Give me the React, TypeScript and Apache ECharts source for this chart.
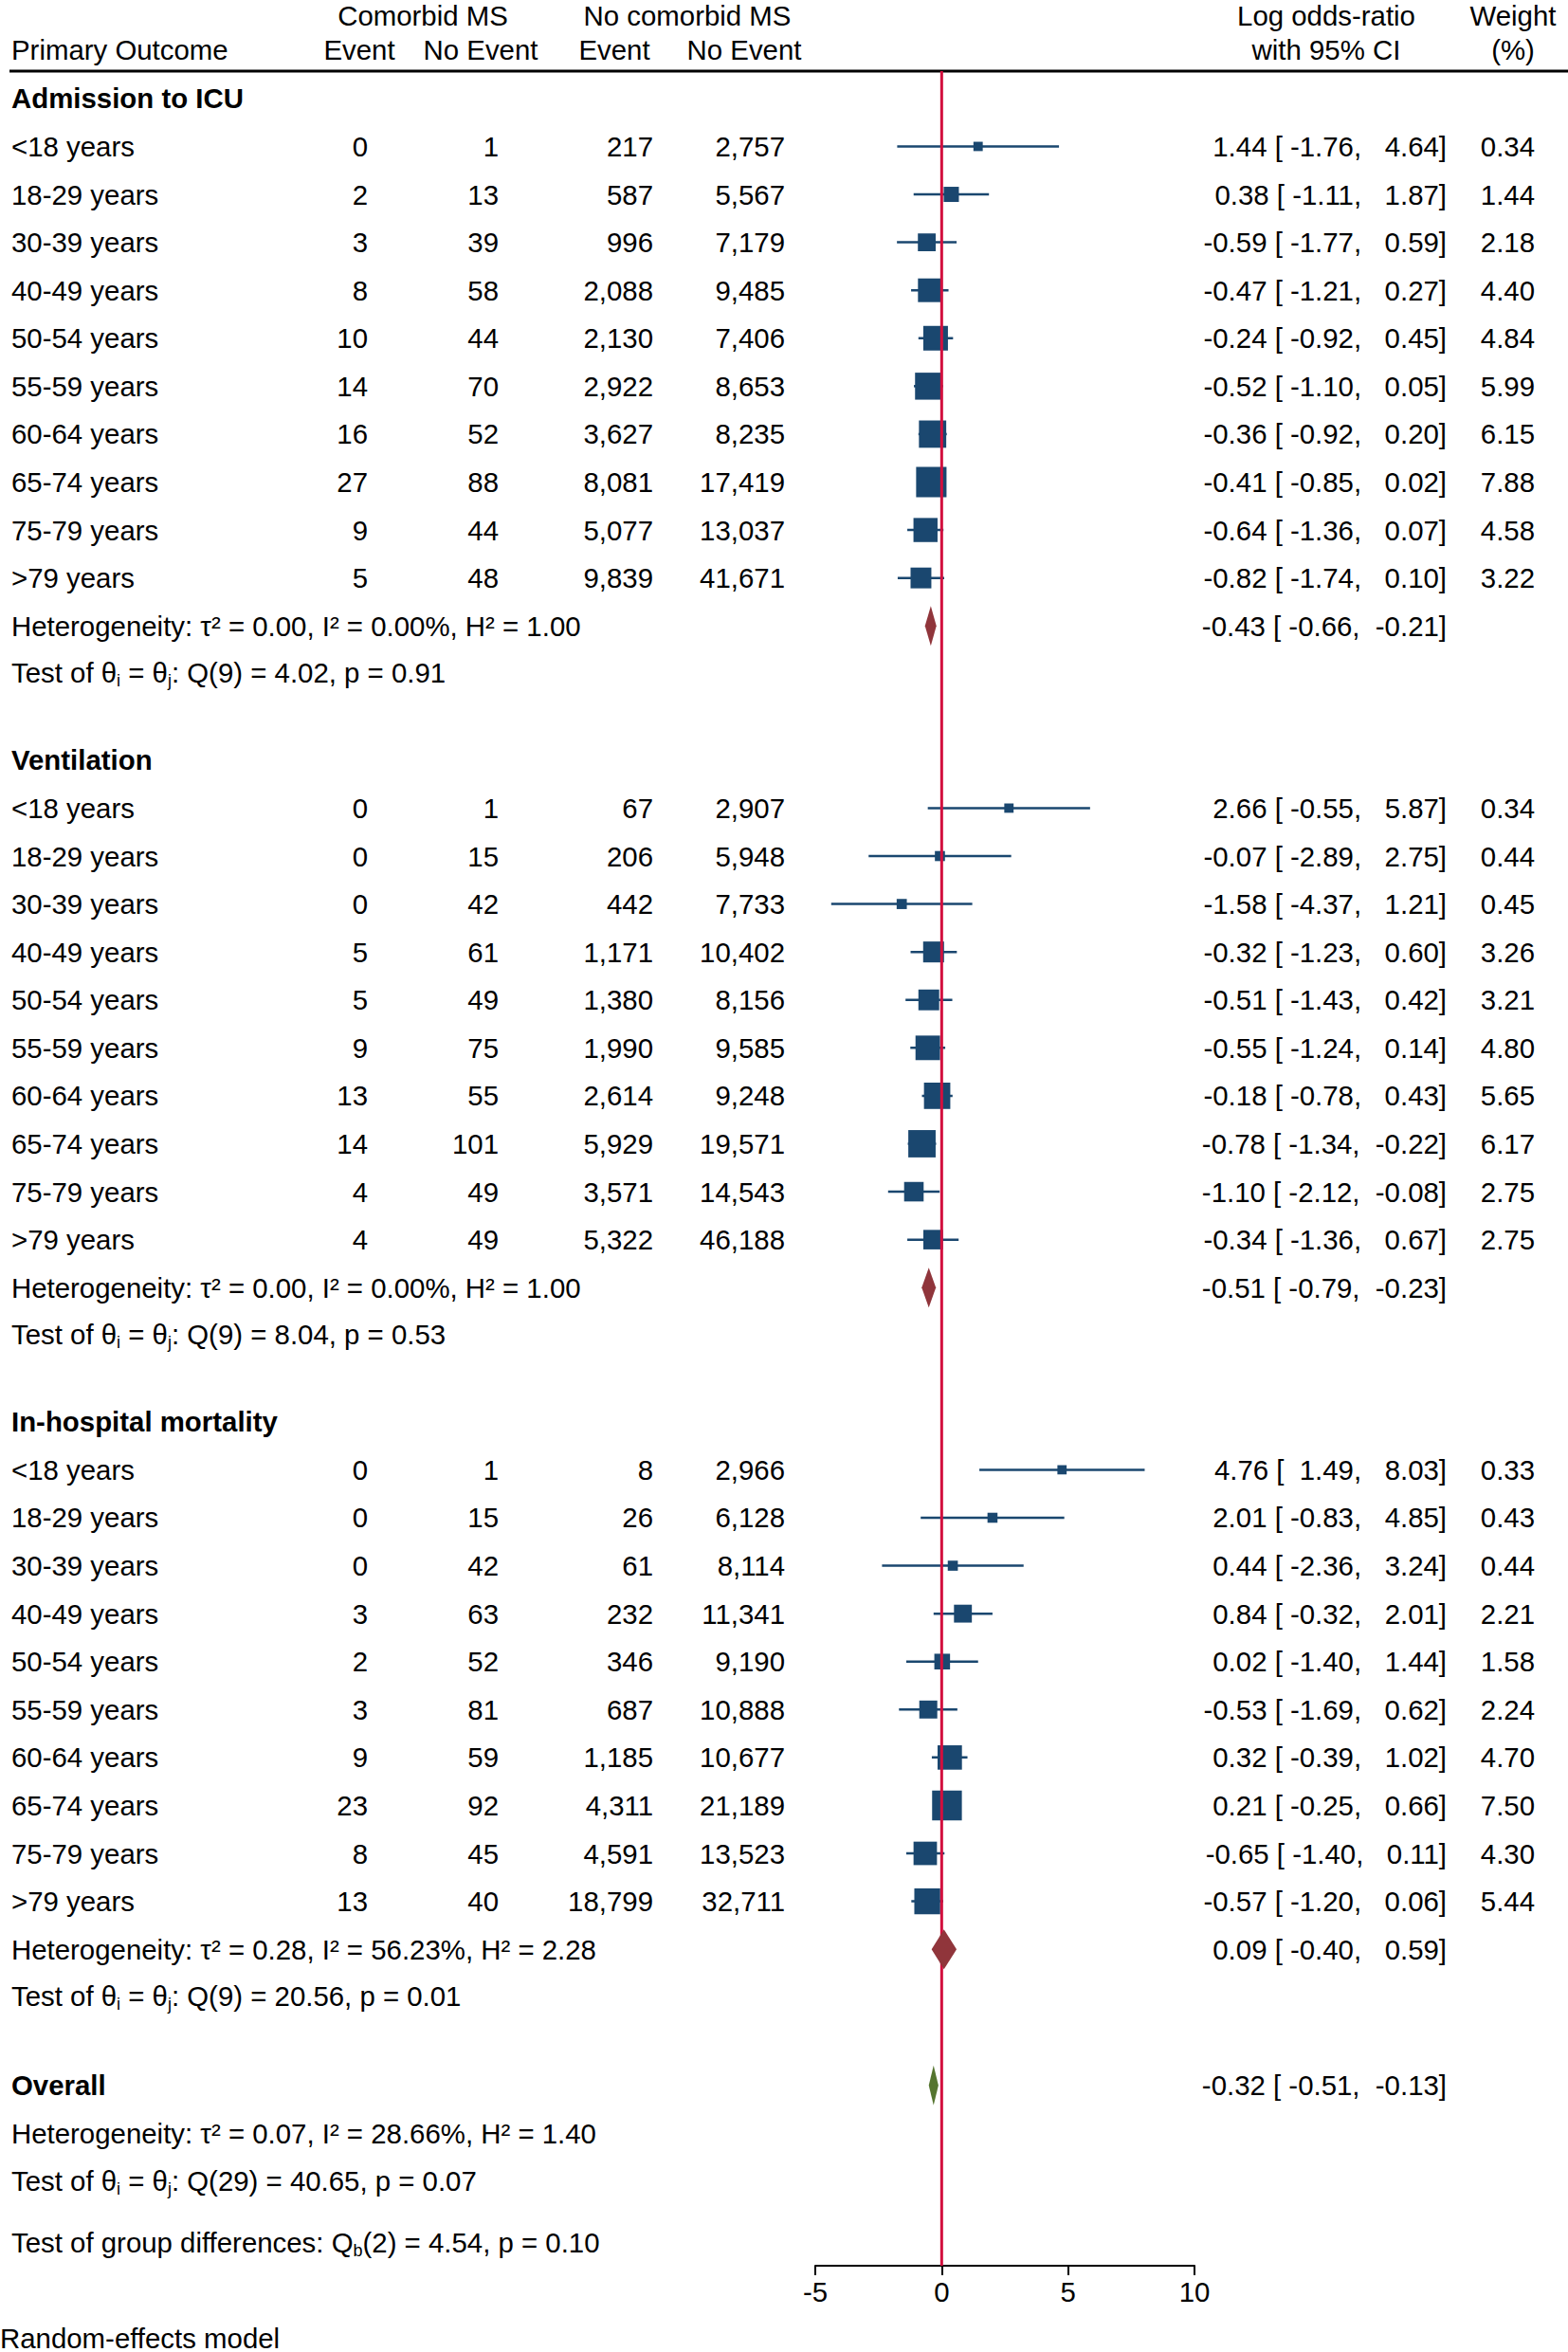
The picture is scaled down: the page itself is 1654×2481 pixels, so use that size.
import React, { useEffect, useRef } from "react";
import * as echarts from "echarts";

// ---------------- DATA ----------------
const ageGroups = ["<18 years", "18-29 years", "30-39 years", "40-49 years", "50-54 years", "55-59 years", "60-64 years", "65-74 years", "75-79 years", ">79 years"];
const outcomes = ["Admission to ICU", "Ventilation", "In-hospital mortality"];

// Admission to ICU
const icuEventMS = [0, 2, 3, 8, 10, 14, 16, 27, 9, 5];
const icuNoEventMS = [1, 13, 39, 58, 44, 70, 52, 88, 44, 48];
const icuEventNoMS = [217, 587, 996, 2088, 2130, 2922, 3627, 8081, 5077, 9839];
const icuNoEventNoMS = [2757, 5567, 7179, 9485, 7406, 8653, 8235, 17419, 13037, 41671];
const icuLogOR = [1.44, 0.38, -0.59, -0.47, -0.24, -0.52, -0.36, -0.41, -0.64, -0.82];
const icuLower = [-1.76, -1.11, -1.77, -1.21, -0.92, -1.10, -0.92, -0.85, -1.36, -1.74];
const icuUpper = [4.64, 1.87, 0.59, 0.27, 0.45, 0.05, 0.20, 0.02, 0.07, 0.10];
const icuWeight = [0.34, 1.44, 2.18, 4.40, 4.84, 5.99, 6.15, 7.88, 4.58, 3.22];

// Ventilation
const ventEventMS = [0, 0, 0, 5, 5, 9, 13, 14, 4, 4];
const ventNoEventMS = [1, 15, 42, 61, 49, 75, 55, 101, 49, 49];
const ventEventNoMS = [67, 206, 442, 1171, 1380, 1990, 2614, 5929, 3571, 5322];
const ventNoEventNoMS = [2907, 5948, 7733, 10402, 8156, 9585, 9248, 19571, 14543, 46188];
const ventLogOR = [2.66, -0.07, -1.58, -0.32, -0.51, -0.55, -0.18, -0.78, -1.10, -0.34];
const ventLower = [-0.55, -2.89, -4.37, -1.23, -1.43, -1.24, -0.78, -1.34, -2.12, -1.36];
const ventUpper = [5.87, 2.75, 1.21, 0.60, 0.42, 0.14, 0.43, -0.22, -0.08, 0.67];
const ventWeight = [0.34, 0.44, 0.45, 3.26, 3.21, 4.80, 5.65, 6.17, 2.75, 2.75];

// In-hospital mortality
const mortEventMS = [0, 0, 0, 3, 2, 3, 9, 23, 8, 13];
const mortNoEventMS = [1, 15, 42, 63, 52, 81, 59, 92, 45, 40];
const mortEventNoMS = [8, 26, 61, 232, 346, 687, 1185, 4311, 4591, 18799];
const mortNoEventNoMS = [2966, 6128, 8114, 11341, 9190, 10888, 10677, 21189, 13523, 32711];
const mortLogOR = [4.76, 2.01, 0.44, 0.84, 0.02, -0.53, 0.32, 0.21, -0.65, -0.57];
const mortLower = [1.49, -0.83, -2.36, -0.32, -1.40, -1.69, -0.39, -0.25, -1.40, -1.20];
const mortUpper = [8.03, 4.85, 3.24, 2.01, 1.44, 0.62, 1.02, 0.66, 0.11, 0.06];
const mortWeight = [0.33, 0.43, 0.44, 2.21, 1.58, 2.24, 4.70, 7.50, 4.30, 5.44];

// Subgroup pooled results
const pooledLogOR = [-0.43, -0.51, 0.09];
const pooledLower = [-0.66, -0.79, -0.40];
const pooledUpper = [-0.21, -0.23, 0.59];
const hetTau2 = [0.00, 0.00, 0.28];
const hetI2 = [0.00, 0.00, 56.23];
const hetH2 = [1.00, 1.00, 2.28];
const testDf = [9, 9, 9];
const testQ = [4.02, 8.04, 20.56];
const testP = [0.91, 0.53, 0.01];

// Overall
const overallLogOR = -0.32;
const overallLower = -0.51;
const overallUpper = -0.13;
const overallTau2 = 0.07;
const overallI2 = 28.66;
const overallH2 = 1.40;
const overallDf = 29;
const overallQ = 40.65;
const overallP = 0.07;
const groupDf = 2;
const groupQ = 4.54;
const groupP = 0.10;

const xTicks = [-5, 0, 5, 10];

// ---------------- STYLE / LAYOUT ----------------
const FONT = "'Liberation Sans', Arial, Helvetica, sans-serif";
const FS = 29.4;
const NAVY = "#1a476f";
const MAROON = "#90353b";
const GREEN = "#55752f";
const RED = "#d20f3e";
const SECTION_STEP = 13.8;
const Y_MIN = -0.571;
const Y_MAX = 45.2;

const sections = [
  { ev: icuEventMS, ne: icuNoEventMS, ev2: icuEventNoMS, ne2: icuNoEventNoMS, est: icuLogOR, lo: icuLower, hi: icuUpper, w: icuWeight },
  { ev: ventEventMS, ne: ventNoEventMS, ev2: ventEventNoMS, ne2: ventNoEventNoMS, est: ventLogOR, lo: ventLower, hi: ventUpper, w: ventWeight },
  { ev: mortEventMS, ne: mortNoEventMS, ev2: mortEventNoMS, ne2: mortNoEventNoMS, est: mortLogOR, lo: mortLower, hi: mortUpper, w: mortWeight },
];

const NB = "\u00A0";
const pad = (v: number, width: number) => {
  let s = v.toFixed(2);
  while (s.length < width) s = NB + s;
  return s;
};
const ciText = (e: number, l: number, h: number) => `${pad(e, 5)}${NB}[${pad(l, 6)},${NB}${pad(h, 6)}]`;
const num = (v: number) => v.toLocaleString("en-US");

type Row = { y: number; kind: string; [k: string]: any };
const rows: Row[] = [];
const studyData: number[][] = [];
const diamondData: number[][] = [];

sections.forEach((s, si) => {
  const base = si * SECTION_STEP;
  rows.push({ y: base, kind: "title", label: outcomes[si] });
  ageGroups.forEach((g, k) => {
    const y = base + k + 1;
    rows.push({
      y, kind: "study", label: g,
      cols: [num(s.ev[k]), num(s.ne[k]), num(s.ev2[k]), num(s.ne2[k])],
      ci: ciText(s.est[k], s.lo[k], s.hi[k]), w: s.w[k].toFixed(2),
    });
    studyData.push([s.est[k], s.lo[k], s.hi[k], y, s.w[k]]);
  });
  rows.push({
    y: base + 11, kind: "het",
    label: `Heterogeneity: τ² = ${hetTau2[si].toFixed(2)}, I² = ${hetI2[si].toFixed(2)}%, H² = ${hetH2[si].toFixed(2)}`,
    ci: ciText(pooledLogOR[si], pooledLower[si], pooledUpper[si]),
  });
  diamondData.push([pooledLogOR[si], pooledLower[si], pooledUpper[si], base + 11, 0]);
  rows.push({
    y: base + 11.98, kind: "test",
    label: `Test of θ{sub|i} = θ{sub|j}: Q(${testDf[si]}) = ${testQ[si].toFixed(2)}, p = ${testP[si].toFixed(2)}`,
  });
});
const OV = 3 * SECTION_STEP + 0.04;
rows.push({ y: OV, kind: "title", label: "Overall", ci: ciText(overallLogOR, overallLower, overallUpper) });
diamondData.push([overallLogOR, overallLower, overallUpper, OV, 1]);
rows.push({ y: OV + 1, kind: "het", label: `Heterogeneity: τ² = ${overallTau2.toFixed(2)}, I² = ${overallI2.toFixed(2)}%, H² = ${overallH2.toFixed(2)}` });
rows.push({ y: OV + 2, kind: "test", label: `Test of θ{sub|i} = θ{sub|j}: Q(${overallDf}) = ${overallQ.toFixed(2)}, p = ${overallP.toFixed(2)}` });
rows.push({ y: OV + 3.28, kind: "test", label: `Test of group differences: Q{sub|b}(${groupDf}) = ${groupQ.toFixed(2)}, p = ${groupP.toFixed(2)}` });

const COL_X = [388, 526, 689, 828];
const CI_X = 1526;
const W_X = 1619;
const LABEL_X = 12;

const rich = {
  sub: { fontSize: 18, fontFamily: FONT, fill: "#000", padding: [16, 0, 0, 0] },
};

const txt = (x: number, y: number, text: string, align: string, extra: any = {}) => ({
  type: "text",
  x,
  y,
  style: {
    text,
    x: 0,
    y: 0,
    fill: "#000",
    fontSize: FS,
    fontFamily: FONT,
    align,
    textAlign: align,
    verticalAlign: "middle",
    textVerticalAlign: "middle",
    ...extra,
  },
});

export default function App() {
  const ref = useRef<HTMLDivElement>(null);
  useEffect(() => {
    if (!ref.current) return;
    const chart = echarts.init(ref.current, null, { renderer: "svg" });
    const option: any = {
      animation: false,
      backgroundColor: "#fff",
      grid: { left: 860, width: 400, top: 75, bottom: 91 },
      xAxis: {
        type: "value",
        position: "bottom",
        min: xTicks[0],
        max: xTicks[xTicks.length - 1],
        interval: 5,
        splitLine: { show: false },
        axisLine: { show: true, onZero: false, lineStyle: { color: "#000", width: 2 } },
        axisTick: { show: true, length: 10, lineStyle: { color: "#000", width: 2 } },
        axisLabel: { color: "#000", fontSize: FS, fontFamily: FONT, margin: 13 },
      },
      yAxis: { type: "value", inverse: true, min: Y_MIN, max: Y_MAX, show: false },
      graphic: [
        { type: "line", shape: { x1: 10, y1: 75, x2: 1654, y2: 75 }, style: { stroke: "#000", lineWidth: 3 } },
        txt(446, 16, "Comorbid MS", "center"),
        txt(725, 16, "No comorbid MS", "center"),
        txt(1399, 16, "Log odds-ratio", "center"),
        txt(1596, 16, "Weight", "center"),
        txt(LABEL_X, 52, "Primary Outcome", "left"),
        txt(379, 52, "Event", "center"),
        txt(507, 52, "No Event", "center"),
        txt(648, 52, "Event", "center"),
        txt(785, 52, "No Event", "center"),
        txt(1399, 52, "with 95% CI", "center"),
        txt(1596, 52, "(%)", "center"),
        txt(0, 2466, "Random-effects model", "left"),
      ],
      series: [
        {
          type: "custom",
          name: "studies",
          z: 2,
          data: studyData,
          encode: { x: [0, 1, 2], y: 3 },
          renderItem: (params: any, api: any) => {
            const y = api.value(3);
            const pLo = api.coord([api.value(1), y]);
            const pHi = api.coord([api.value(2), y]);
            const pE = api.coord([api.value(0), y]);
            const side = 4 + 10 * Math.sqrt(api.value(4));
            return {
              type: "group",
              children: [
                { type: "line", shape: { x1: pLo[0], y1: pLo[1], x2: pHi[0], y2: pHi[1] }, style: { stroke: NAVY, lineWidth: 2.5 } },
                { type: "rect", shape: { x: pE[0] - side / 2, y: pE[1] - side / 2, width: side, height: side }, style: { fill: NAVY } },
              ],
            };
          },
        },
        {
          type: "custom",
          name: "reference",
          z: 3,
          data: [[0]],
          encode: { x: 0 },
          renderItem: (params: any, api: any) => {
            const a = api.coord([api.value(0), Y_MIN]);
            const b = api.coord([api.value(0), Y_MAX]);
            return { type: "line", shape: { x1: a[0], y1: a[1], x2: b[0], y2: b[1] }, style: { stroke: RED, lineWidth: 3 } };
          },
        },
        {
          type: "custom",
          name: "pooled",
          z: 4,
          data: diamondData,
          encode: { x: [0, 1, 2], y: 3 },
          renderItem: (params: any, api: any) => {
            const y = api.value(3);
            const pLo = api.coord([api.value(1), y]);
            const pHi = api.coord([api.value(2), y]);
            const pE = api.coord([api.value(0), y]);
            const h = 42;
            return {
              type: "polygon",
              shape: { points: [[pLo[0], pLo[1]], [pE[0], pE[1] - h / 2], [pHi[0], pHi[1]], [pE[0], pE[1] + h / 2]] },
              style: { fill: api.value(4) === 1 ? GREEN : MAROON },
            };
          },
        },
        {
          type: "custom",
          name: "table",
          z: 5,
          data: rows.map((r, i) => [0, r.y, i]),
          encode: { x: 0, y: 1 },
          renderItem: (params: any, api: any) => {
            const r = rows[api.value(2)];
            const y = api.coord([0, api.value(1)])[1];
            const children: any[] = [];
            if (r.kind === "title") {
              children.push(txt(LABEL_X, y, r.label, "left", { fontWeight: "bold" }));
            } else if (r.kind === "study") {
              children.push(txt(LABEL_X, y, r.label, "left"));
              r.cols.forEach((c: string, i: number) => children.push(txt(COL_X[i], y, c, "right")));
              children.push(txt(W_X, y, r.w, "right"));
            } else if (r.kind === "het") {
              children.push(txt(LABEL_X, y, r.label, "left"));
            } else if (r.kind === "test") {
              children.push(txt(LABEL_X, y, r.label, "left", { rich }));
            }
            if (r.ci) children.push(txt(CI_X, y, r.ci, "right"));
            return { type: "group", children };
          },
        },
      ],
    };
    chart.setOption(option);
    return () => chart.dispose();
  }, []);
  return <div ref={ref} style={{ position: "absolute", left: 0, top: 0, width: 1654, height: 2481, background: "#fff" }} />;
}
